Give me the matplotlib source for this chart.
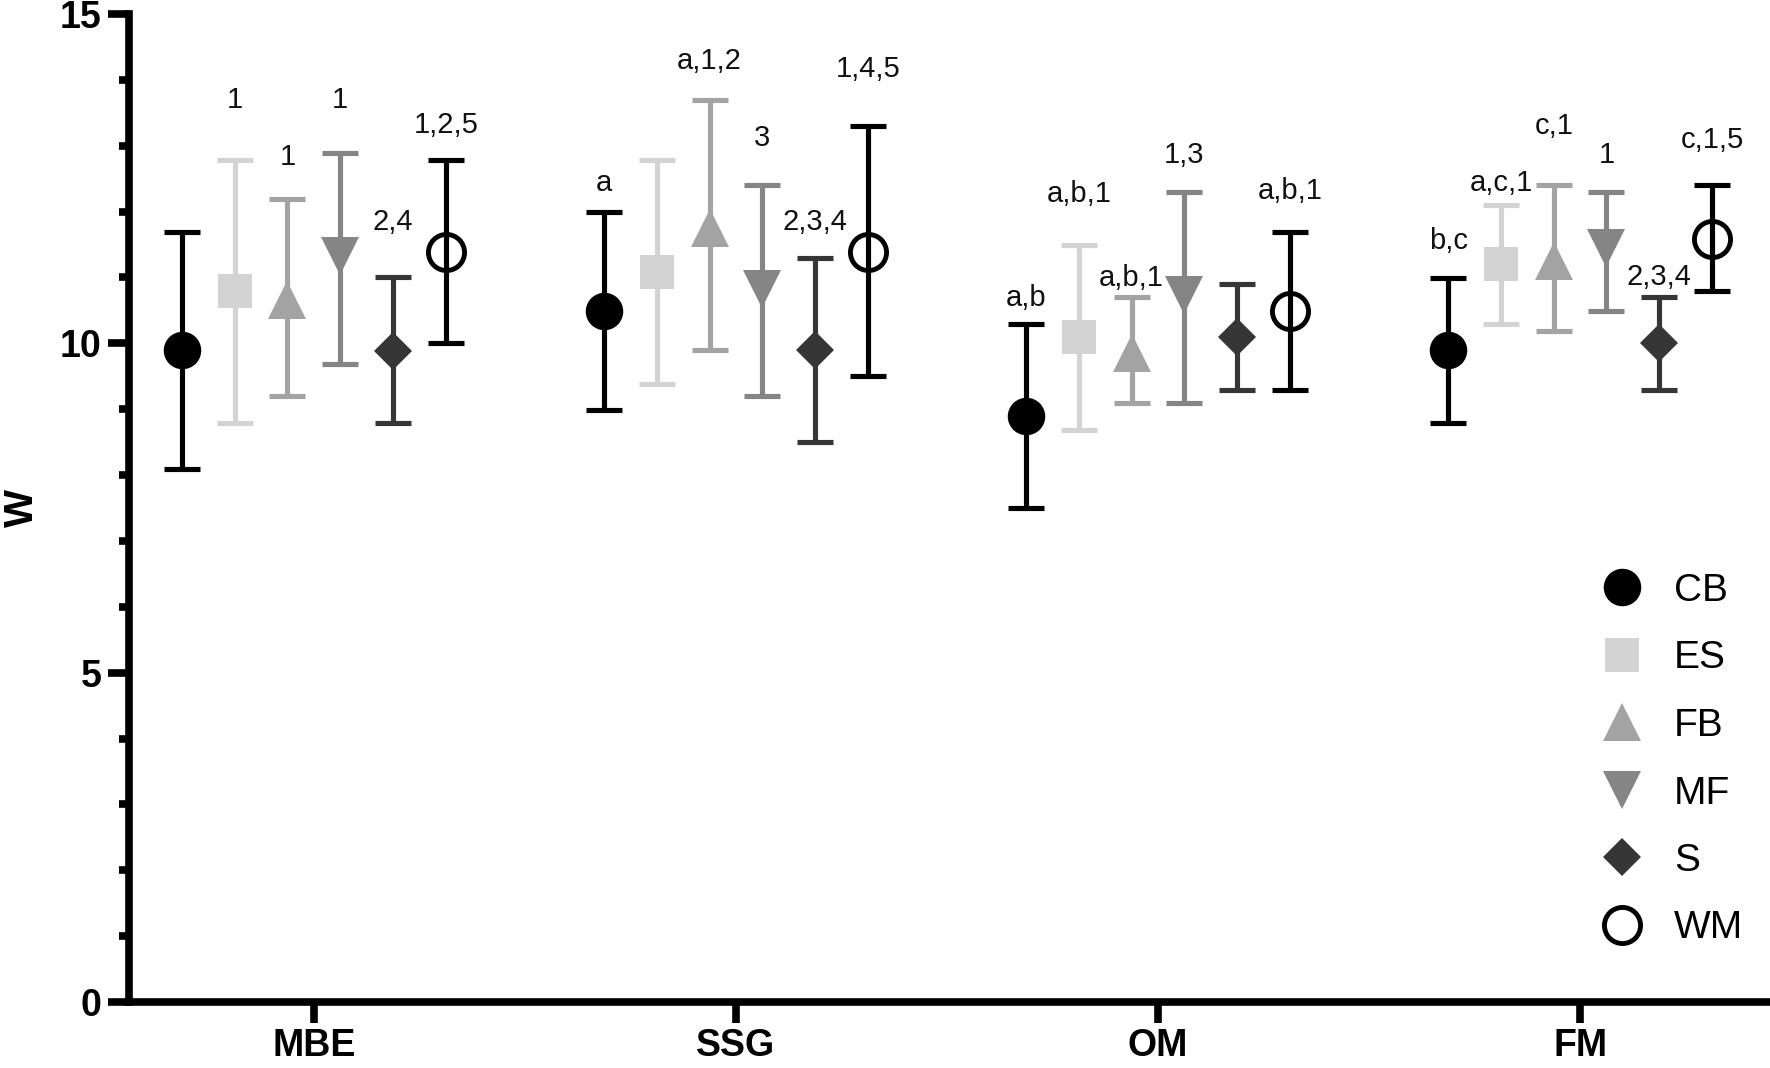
import matplotlib
matplotlib.use('Agg')
import matplotlib.pyplot as plt
from matplotlib.lines import Line2D
import numpy as np

plt.rcParams['font.family'] = ['Liberation Sans', 'DejaVu Sans']

categories = ['MBE', 'SSG', 'OM', 'FM']
groups = ['CB', 'ES', 'FB', 'MF', 'S', 'WM']

# means and error-bar limits per group (one value per category)
cb_mean = [9.90, 10.49, 8.90, 9.90]
cb_low = [8.09, 8.99, 7.50, 8.79]
cb_high = [11.69, 12.00, 10.30, 10.99]

es_mean = [10.79, 11.09, 10.09, 11.20]
es_low = [8.79, 9.39, 8.69, 10.30]
es_high = [12.79, 12.79, 11.49, 12.10]

fb_mean = [10.66, 11.75, 9.85, 11.25]
fb_low = [9.20, 9.90, 9.10, 10.19]
fb_high = [12.19, 13.69, 10.70, 12.40]

mf_mean = [11.33, 10.83, 10.73, 11.44]
mf_low = [9.69, 9.20, 9.10, 10.49]
mf_high = [12.89, 12.40, 12.30, 12.30]

s_mean = [9.89, 9.90, 10.09, 10.00]
s_low = [8.79, 8.50, 9.29, 9.29]
s_high = [11.00, 11.30, 10.90, 10.70]

wm_mean = [11.39, 11.39, 10.49, 11.59]
wm_low = [10.00, 9.50, 9.29, 10.79]
wm_high = [12.79, 13.30, 11.69, 12.40]

# significance annotations and the height they sit at
cb_text = ['', 'a', 'a,b', 'b,c']
cb_text_y = [0, 12.44, 10.69, 11.55]
es_text = ['1', '', 'a,b,1', 'a,c,1']
es_text_y = [13.69, 0, 12.26, 12.44]
fb_text = ['1', 'a,1,2', 'a,b,1', 'c,1']
fb_text_y = [12.83, 14.29, 10.99, 13.30]
mf_text = ['1', '3', '1,3', '1']
mf_text_y = [13.69, 13.12, 12.86, 12.86]
s_text = ['2,4', '2,3,4', '', '2,3,4']
s_text_y = [11.84, 11.84, 0, 11.00]
wm_text = ['1,2,5', '1,4,5', 'a,b,1', 'c,1,5']
wm_text_y = [13.32, 14.17, 12.31, 13.09]

yticks_major = [0, 5, 10, 15]

series = [
    (cb_mean, cb_low, cb_high, cb_text, cb_text_y),
    (es_mean, es_low, es_high, es_text, es_text_y),
    (fb_mean, fb_low, fb_high, fb_text, fb_text_y),
    (mf_mean, mf_low, mf_high, mf_text, mf_text_y),
    (s_mean, s_low, s_high, s_text, s_text_y),
    (wm_mean, wm_low, wm_high, wm_text, wm_text_y),
]

styles = [
    dict(marker='o', color='#000000', mfc='#000000', mec='#000000', ms=27, mew=0),
    dict(marker='s', color='#d3d3d3', mfc='#d3d3d3', mec='#d3d3d3', ms=25, mew=0),
    dict(marker='^', color='#a3a3a3', mfc='#a3a3a3', mec='#a3a3a3', ms=27, mew=0),
    dict(marker='v', color='#858585', mfc='#858585', mec='#858585', ms=27, mew=0),
    dict(marker='D', color='#363636', mfc='#363636', mec='#363636', ms=19, mew=0),
    dict(marker='o', color='#000000', mfc='none', mec='#000000', ms=26, mew=3.5),
]

W, H = 1770, 1068
AX_L, AX_B, AX_T = 129, 1002, 14
fig = plt.figure(figsize=(W / 100, H / 100), dpi=100)
ax = fig.add_axes([AX_L / W, 1 - AX_B / H, (W - AX_L) / W, (AX_B - AX_T) / H])

xc = np.arange(len(categories))
step = 0.125
for i, ((mean, low, high, txt, ty), st) in enumerate(zip(series, styles)):
    x = xc + (i - 2.5) * step
    mean = np.array(mean)
    yerr = [mean - np.array(low), np.array(high) - mean]
    ax.errorbar(x, mean, yerr=yerr, fmt='none', ecolor=st['color'],
                elinewidth=3.7, capsize=13, capthick=3.7, zorder=2)
    ax.plot(x, mean, linestyle='none', marker=st['marker'], ms=st['ms'],
            mfc=st['mfc'], mec=st['mec'], mew=st['mew'], zorder=3)
    for xi, t, yi in zip(x, txt, ty):
        if t:
            ax.text(xi, yi, t, ha='center', va='center', fontsize=21, color='#111111')

ax.set_xlim(-0.438, 3.45)
ax.set_ylim(0, 15)
ax.set_xticks(xc)
ax.set_xticklabels(categories, fontweight='bold', fontsize=27)
ax.set_yticks(yticks_major)
ax.set_yticklabels([str(v) for v in yticks_major], fontweight='bold', fontsize=27)
ax.set_yticks(np.arange(0, 16, 1), minor=True)
ax.tick_params(axis='y', which='major', length=15, width=5.5, pad=5)
ax.tick_params(axis='y', which='minor', length=7.5, width=5.5)
ax.tick_params(axis='x', which='major', length=15, width=5.5, pad=4)
for sp in ['top', 'right']:
    ax.spines[sp].set_visible(False)
for sp in ['left', 'bottom']:
    ax.spines[sp].set_linewidth(5.5)
ax.set_ylabel('W', fontweight='bold', fontsize=29)
ax.yaxis.set_label_coords(-0.0535, 0.5)

handles = [Line2D([], [], linestyle='none', marker=st['marker'], ms=st['ms'],
                  mfc=st['mfc'], mec=st['mec'], mew=st['mew']) for st in styles]
ax.legend(handles, groups, loc='upper left', bbox_to_anchor=(1603 / W, 1 - 573 / H),
          bbox_transform=fig.transFigure, frameon=False, fontsize=28,
          handlelength=1.0, handletextpad=0.82, labelspacing=0.81,
          borderpad=0, borderaxespad=0)

fig.savefig('out.png', dpi=100)
